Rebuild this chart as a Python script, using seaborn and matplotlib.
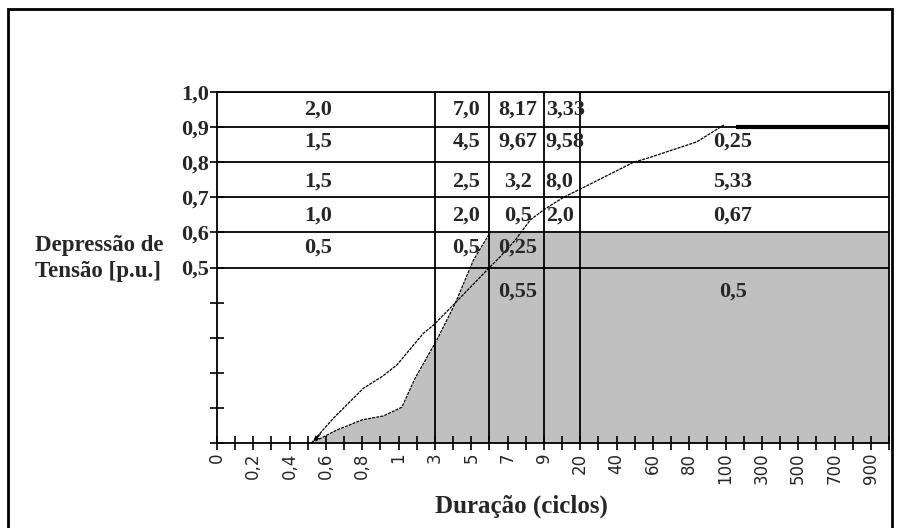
import numpy as np
import matplotlib
matplotlib.use("Agg")
import matplotlib.pyplot as plt
import seaborn as sns
from matplotlib.patches import Rectangle

sns.set_style("white")
plt.rcParams["font.family"] = ["Liberation Serif", "DejaVu Serif"]

# ---------------- data ----------------
duration_labels = ["0", "0,2", "0,4", "0,6", "0,8", "1", "3", "5", "7", "9",
                   "20", "40", "60", "80", "100", "300", "500", "700", "900"]
voltage_ticks = [0.0, 0.1, 0.2, 0.3, 0.4, 0.5, 0.6, 0.7, 0.8, 0.9, 1.0]
voltage_labels = ["", "", "", "", "", "0,5", "0,6", "0,7", "0,8", "0,9", "1,0"]

band_edges = [0.5, 0.6, 0.7, 0.8, 0.9, 1.0]      # voltage band limits
boundary_pos = [6, 7.5, 9, 10]                     # duration limits (3, 6, 9, 20 cycles)
x_end = 18.5

# steeper curve (bounds the shaded region)
curve_a_pos = [2.6, 3.3, 4.0, 4.58, 5.09, 5.45, 6.05, 6.56, 7.06, 7.52]
curve_a_val = [0.0, 0.037, 0.066, 0.077, 0.102, 0.184, 0.293, 0.398, 0.521, 0.6]
shade_level = 0.6

# flatter curve
curve_b_pos = [2.6, 3.2, 4.03, 4.54, 4.95, 5.68, 5.96, 6.37, 7.52, 7.8, 8.21,
               8.62, 8.99, 9.54, 10.05, 11.47, 11.84, 13.21, 13.95]
curve_b_val = [0.0, 0.07, 0.156, 0.189, 0.222, 0.3125, 0.336, 0.379, 0.502, 0.531,
               0.578, 0.635, 0.664, 0.70, 0.726, 0.80, 0.811, 0.858, 0.906]
plateau_start = 14.3
plateau_val = 0.9

# table values, rows from top band to below 0.5
cell_rows = [
    ["2,0", "7,0", "8,17", "3,33", ""],
    ["1,5", "4,5", "9,67", "9,58", "0,25"],
    ["1,5", "2,5", "3,2", "8,0", "5,33"],
    ["1,0", "2,0", "0,5", "2,0", "0,67"],
    ["0,5", "0,5", "0,25", "", ""],
    ["", "", "0,55", "", "0,5"],
]

# ---------------- layout ----------------
W, H = 899, 528
fig = plt.figure(figsize=(W / 100, H / 100), dpi=100)
ax = fig.add_axes([217 / W, 1 - 443 / H, (889 - 217) / W, (443 - 92) / H])

ax.fill_between(list(curve_a_pos) + [x_end], list(curve_a_val) + [shade_level], 0,
                color="#c0c0c0", lw=0, zorder=0)

ax.hlines(band_edges, 0, x_end, color="black", lw=1.3, zorder=2)
ax.vlines(boundary_pos, 0, 1.0, color="black", lw=1.3, zorder=2)

sns.lineplot(x=curve_a_pos, y=curve_a_val, sort=False, estimator=None, ax=ax,
             color="black", lw=0.9, linestyle=(0, (2.5, 0.8)), zorder=3, clip_on=False)
sns.lineplot(x=curve_b_pos, y=curve_b_val, sort=False, estimator=None, ax=ax,
             color="black", lw=0.9, linestyle=(0, (2.5, 0.8)), zorder=3, clip_on=False)
ax.hlines([plateau_val], plateau_start, x_end, color="black", lw=3, zorder=3)
ax.annotate("", xy=(curve_a_pos[0], curve_a_val[0]), xytext=(curve_a_pos[0] + 0.3, 0.03),
            arrowprops=dict(arrowstyle="-|>", lw=0.8, mutation_scale=7, color="black"),
            zorder=4)

col_x = [2.79, 6.87, 8.28, 9.05, 14.2]
col_ha = ["center", "center", "center", "left", "center"]
row_y = [0.949, 0.858, 0.746, 0.647, 0.556, 0.43]
for r, row in enumerate(cell_rows):
    for c, txt in enumerate(row):
        if txt:
            ax.text(col_x[c], row_y[r], txt, ha=col_ha[c], va="center",
                    fontsize=16, fontweight="bold", zorder=5)

ax.set_xlim(0, x_end)
ax.set_ylim(0, 1.0)
ax.set_xticks(range(len(duration_labels)))
ax.set_xticklabels(duration_labels, rotation=90, fontsize=12, family="DejaVu Sans")
ax.set_xticks(np.arange(0.5, x_end + 0.01, 1.0), minor=True)
ax.set_yticks(voltage_ticks)
ax.set_yticklabels(voltage_labels, fontsize=16, fontweight="bold")
ax.tick_params(which="both", direction="inout", length=10, width=1.2, color="black",
               bottom=True, left=True, top=False, right=False)
ax.tick_params(axis="x", pad=2)
ax.tick_params(axis="y", pad=1)
for s in ax.spines.values():
    s.set_color("black")
    s.set_linewidth(1.3)

fig.text(35 / W, 1 - 245 / H, "Depressão de", ha="left", va="center",
         fontsize=16.5, fontweight="bold")
fig.text(35 / W, 1 - 272 / H, "Tensão [p.u.]", ha="left", va="center",
         fontsize=16.5, fontweight="bold")
fig.text(521 / W, 1 - 506 / H, "Duração (ciclos)", ha="center", va="center",
         fontsize=18, fontweight="bold")

fig.patches.append(Rectangle((8 / W, -0.02), (892 - 8) / W, 1.02 - 9 / H,
                             transform=fig.transFigure, fill=False, lw=2, ec="black"))

fig.savefig("out.png", dpi=100)
